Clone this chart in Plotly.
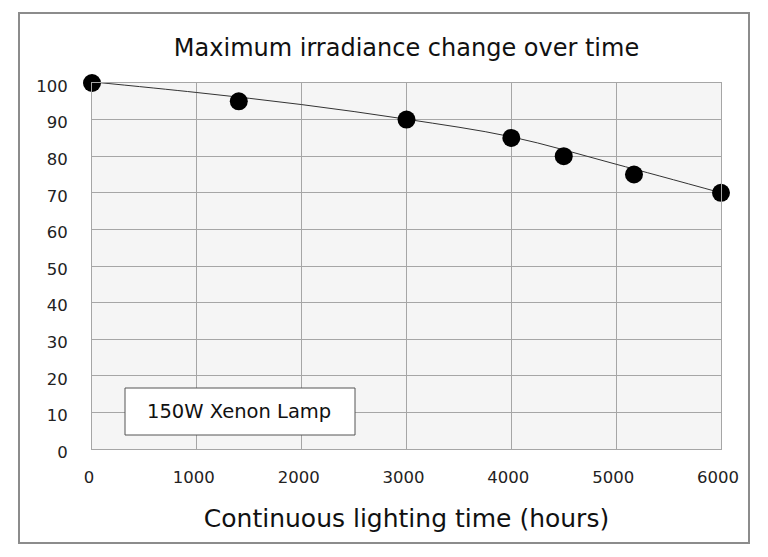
import plotly.graph_objects as go

# Data
hours = [0, 1400, 3000, 4000, 4500, 5170, 6000]
irradiance = [100, 95, 90, 85, 80, 75, 70]

# Trend line
trend_hours = [0, 1000, 2000, 3000, 4000, 5000, 6000]
trend_vals = [100.3, 97.4, 94.1, 90.1, 85.3, 77.8, 70.0]

x_ticks = [0, 1000, 2000, 3000, 4000, 5000, 6000]
y_ticks = [0, 10, 20, 30, 40, 50, 60, 70, 80, 90, 100]

FONT = "DejaVu Sans"

# page body has an 8px margin; work in screen pixels and shift
OFF = 8
W, H = 768 - 2 * OFF, 557 - 2 * OFF
# plot area in screen pixels
PL, PR, PT, PB = 92, 721, 83, 449
L, T = PL - OFF, PT - OFF
R, B = W - (PR - OFF), H - (PB - OFF)

def px_x(px):
    return (px - PL) / (PR - PL)

def px_y(py):
    return (PB - py) / (PB - PT)

fig = go.Figure()
fig.add_trace(go.Scatter(
    x=trend_hours, y=trend_vals, mode="lines",
    line=dict(color="#333333", width=1, shape="spline", smoothing=1.0),
    hoverinfo="skip", showlegend=False, cliponaxis=False,
))
fig.add_trace(go.Scatter(
    x=hours, y=irradiance, mode="markers",
    marker=dict(color="black", size=18),
    showlegend=False, cliponaxis=False,
))

# Outer frame
fig.add_shape(type="rect", xref="paper", yref="paper",
              x0=px_x(19), x1=px_x(749), y0=px_y(543), y1=px_y(13),
              line=dict(color="#8c8c8c", width=2), layer="below")

# Label box
fig.add_shape(type="rect", xref="paper", yref="paper",
              x0=px_x(125), x1=px_x(355), y0=px_y(435), y1=px_y(388),
              line=dict(color="#555555", width=1), fillcolor="white", layer="above")
fig.add_annotation(xref="paper", yref="paper",
                   x=px_x(239), y=px_y(411),
                   text="150W Xenon Lamp", showarrow=False,
                   font=dict(family=FONT, size=19.5, color="#111111"),
                   xanchor="center", yanchor="middle")

fig.update_layout(
    width=W, height=H,
    margin=dict(l=L, r=R, t=T, b=B),
    paper_bgcolor="white",
    plot_bgcolor="#f5f5f5",
    font=dict(family=FONT, color="#222222"),
    title=dict(text="Maximum irradiance change over time",
               font=dict(family=FONT, size=24, color="#111111"),
               x=0.5, xref="paper", xanchor="center",
               y=1 - (48 - OFF) / H, yref="container", yanchor="middle"),
    xaxis=dict(range=[0, 6000], tickvals=x_ticks, ticktext=[str(v) for v in x_ticks],
               showgrid=True, gridcolor="#a6a6a6", gridwidth=1,
               showline=True, linecolor="#a6a6a6", linewidth=1, mirror=True,
               zeroline=False, ticks="outside", ticklen=0, ticklabelstandoff=13,
               ticklabelshift=-3,
               tickfont=dict(family=FONT, size=16.5, color="#222222"),
               title=dict(text="Continuous lighting time (hours)",
                          font=dict(family=FONT, size=25, color="#111111"),
                          standoff=23)),
    yaxis=dict(range=[0, 100], tickvals=y_ticks, ticktext=[str(v) for v in y_ticks],
               showgrid=True, gridcolor="#a6a6a6", gridwidth=1,
               showline=True, linecolor="#a6a6a6", linewidth=1, mirror=True,
               zeroline=False, ticks="outside", ticklen=0, ticklabelstandoff=20,
               ticklabelshift=3,
               tickfont=dict(family=FONT, size=16.5, color="#222222")),
)

fig.write_html("out.html")
